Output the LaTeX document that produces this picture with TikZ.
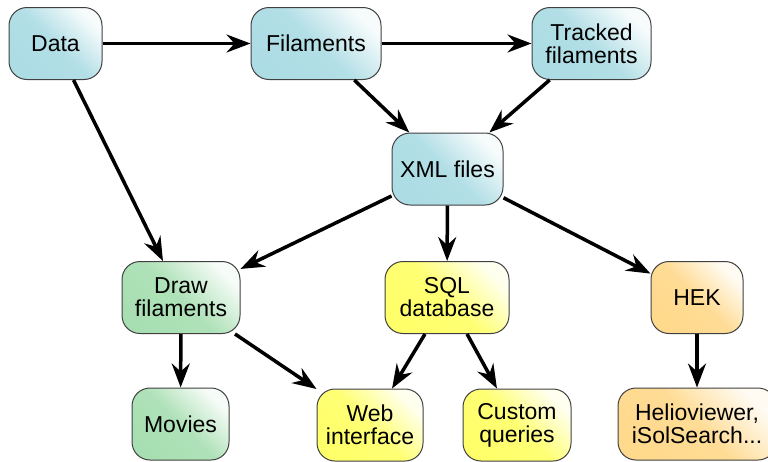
\documentclass[tikz,border=0pt]{standalone}
\usepackage{fontspec}
\setmainfont{Liberation Sans}
\usetikzlibrary{arrows.meta}
\definecolor{boxblue}{RGB}{172,220,228}
\definecolor{boxgreen}{RGB}{168,223,178}
\definecolor{boxyellow}{RGB}{255,255,105}
\definecolor{boxorange}{RGB}{255,217,140}
\begin{document}
\begin{tikzpicture}[
  x=1pt,y=-1pt,
  box/.style={rectangle,rounded corners=18pt,draw=black!75,line width=1pt,
    inner sep=0pt,align=center,minimum height=72pt,
    font=\fontsize{23}{23}\selectfont},
  tint/.style={bottom color=#1,top color=#1!10!white,middle color=#1!92!white,shading angle=-45},
  flow/.style={-{Stealth[length=24pt,width=18pt,inset=8pt]},line width=3.5pt,draw=black}
]
\useasboundingbox (0,0) rectangle (768,461);
% processing chain
\node[box,tint=boxblue,minimum width=93pt] (data) at (55.5,43.5) {Data};
\node[box,tint=boxblue,minimum width=130pt] (fil) at (316,43.5) {Filaments};
\node[box,tint=boxblue,minimum width=119pt] (trk) at (591.5,43.5) {Tracked\\filaments};
\node[box,tint=boxblue,minimum width=111pt] (xml) at (447.5,169) {XML files};
% outputs
\node[box,tint=boxgreen,minimum width=118pt] (drw) at (181,297.5) {Draw\\filaments};
\node[box,tint=boxyellow,minimum width=124pt] (sql) at (447,297.5) {SQL\\database};
\node[box,tint=boxorange,minimum width=92pt] (hek) at (697,297.5) {HEK};
\node[box,tint=boxgreen,minimum width=97pt] (mov) at (180.5,424) {Movies};
\node[box,tint=boxyellow,minimum width=106pt] (web) at (370,425) {Web\\interface};
\node[box,tint=boxyellow,minimum width=108pt] (cust) at (517,425) {Custom\\queries};
\node[box,tint=boxorange,minimum width=158pt] (helio) at (697,424) {Helioviewer,\\iSolSearch...};

\draw[flow] (data) -- (fil);
\draw[flow] (fil) -- (trk);
\draw[flow] (data) -- (drw);
\draw[flow] (fil) -- (xml);
\draw[flow] (trk) -- (xml);
\draw[flow] (xml) -- (drw);
\draw[flow] (xml) -- (sql);
\draw[flow] (xml) -- (hek);
\draw[flow] (drw) -- (mov);
\draw[flow] (drw) -- (web);
\draw[flow] (sql) -- (web);
\draw[flow] (sql) -- (cust);
\draw[flow] (hek) -- (helio);
\end{tikzpicture}
\end{document}
